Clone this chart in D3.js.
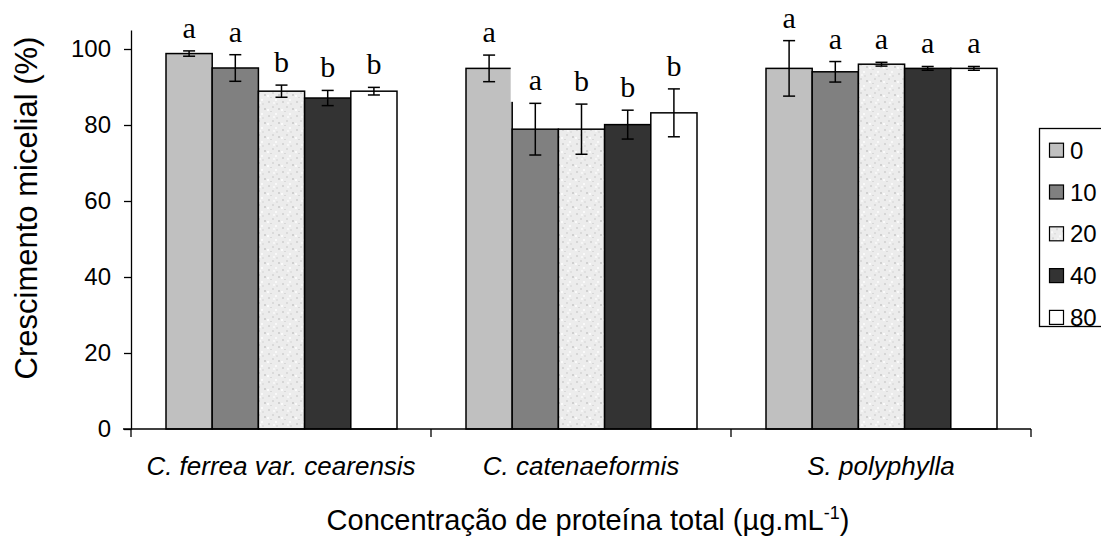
<!DOCTYPE html>
<html>
<head>
<meta charset="utf-8">
<script src="https://cdn.jsdelivr.net/npm/d3@7"></script>
<style>
  body { margin: 0; background: #fff; }
  svg { display: block; }
</style>
</head>
<body>
<div id="chart"></div>
<script>
// chart data
var groups = ["C. ferrea var. cearensis", "C. catenaeformis", "S. polyphylla"];
var doses = ["0", "10", "20", "40", "80"];
var ferreaMeans = [98.8, 95.0, 88.9, 87.1, 88.9];
var ferreaErr = [0.7, 3.5, 1.6, 2.0, 1.0];
var ferreaLetters = ["a", "a", "b", "b", "b"];
var catenMeans = [94.9, 78.9, 78.9, 80.1, 83.2];
var catenErr = [3.5, 6.8, 6.6, 3.8, 6.3];
var catenLetters = ["a", "a", "b", "b", "b"];
var polyMeans = [94.9, 94.0, 96.0, 94.9, 94.9];
var polyErr = [7.3, 2.7, 0.5, 0.5, 0.5];
var polyLetters = ["a", "a", "a", "a", "a"];
var yTicks = [0, 20, 40, 60, 80, 100];

var means = [ferreaMeans, catenMeans, polyMeans];
var errs = [ferreaErr, catenErr, polyErr];
var letters = [ferreaLetters, catenLetters, polyLetters];

var fills = ["#c0c0c0", "#808080", "url(#speckle)", "#333333", "#ffffff"];

var width = 1101, height = 538;
var svg = d3.select("#chart").append("svg")
    .attr("width", width)
    .attr("height", height);

// speckled texture for the 20 series
var pat = svg.append("defs").append("pattern")
    .attr("id", "speckle")
    .attr("patternUnits", "userSpaceOnUse")
    .attr("width", 14).attr("height", 14);
pat.append("rect").attr("width", 14).attr("height", 14).attr("fill", "#ececec");
var dots = [[2, 3, "#d6d6d6"], [9, 1, "#f9f9f9"], [6, 8, "#dadada"], [12, 10, "#d0d0d0"],
            [1, 11, "#fafafa"], [10, 5, "#e0e0e0"], [4, 13, "#d8d8d8"], [7, 4, "#f6f6f6"]];
dots.forEach(function (d) {
    pat.append("rect").attr("x", d[0]).attr("y", d[1])
        .attr("width", 2).attr("height", 2).attr("fill", d[2]);
});

var x0 = d3.scaleBand().domain(groups).range([131, 1031]);
var x1 = d3.scaleBand().domain(doses).range([35, 266]);
var y = d3.scaleLinear().domain([0, 105]).range([429, 30]);

// rows: one per bar
var rows = [];
groups.forEach(function (g, gi) {
    doses.forEach(function (d, di) {
        rows.push({ group: g, dose: d, di: di, v: means[gi][di], e: errs[gi][di], l: letters[gi][di] });
    });
});

var bars = svg.append("g");
bars.selectAll("rect")
    .data(rows)
    .enter().append("rect")
    .attr("x", function (d) { return x0(d.group) + x1(d.dose); })
    .attr("y", function (d) { return y(d.v); })
    .attr("width", x1.bandwidth())
    .attr("height", function (d) { return y(0) - y(d.v); })
    .attr("fill", function (d) { return fills[d.di]; })
    .attr("stroke", "#000")
    .attr("stroke-width", 1.5);

// white label box that clips the corner of the first C. catenaeformis bar
svg.append("rect")
    .attr("x", x0(groups[1]) + x1(doses[1]) - 1.5)
    .attr("y", 60)
    .attr("width", 50)
    .attr("height", y(catenMeans[1] + catenErr[1]) - 1.5 - 60)
    .attr("fill", "#fff");

// error bars
var eb = svg.append("g").attr("stroke", "#000").attr("stroke-width", 1.5);
rows.forEach(function (d) {
    var cx = x0(d.group) + x1(d.dose) + x1.bandwidth() / 2;
    var top = y(d.v + d.e), bot = y(d.v - d.e);
    eb.append("line").attr("x1", cx).attr("x2", cx).attr("y1", top).attr("y2", bot);
    eb.append("line").attr("x1", cx - 6).attr("x2", cx + 6).attr("y1", top).attr("y2", top);
    eb.append("line").attr("x1", cx - 6).attr("x2", cx + 6).attr("y1", bot).attr("y2", bot);
});

// significance letters
svg.append("g").selectAll("text")
    .data(rows)
    .enter().append("text")
    .attr("x", function (d) { return x0(d.group) + x1(d.dose) + x1.bandwidth() / 2; })
    .attr("y", function (d) { return y(d.v + d.e) - 13; })
    .attr("text-anchor", "middle")
    .style("font-family", "'Liberation Serif', 'Times New Roman', serif")
    .style("font-size", "30px")
    .text(function (d) { return d.l; });

// y axis
var yAxis = svg.append("g")
    .attr("transform", "translate(131,0)")
    .call(d3.axisLeft(y).tickValues(yTicks).tickSize(7).tickSizeOuter(0).tickPadding(13));
yAxis.selectAll("path, line").attr("stroke", "#000").attr("stroke-width", 1.3);
yAxis.selectAll("text")
    .style("font-family", "'Liberation Sans', Arial, sans-serif")
    .style("font-size", "24px")
    .attr("fill", "#000");

// x axis line + group separators
svg.append("line")
    .attr("x1", 123).attr("x2", x0.range()[1])
    .attr("y1", y(0)).attr("y2", y(0))
    .attr("stroke", "#000").attr("stroke-width", 1.3);
var sep = groups.map(function (g) { return x0(g); }).concat([x0.range()[1]]);
svg.append("g").selectAll("line")
    .data(sep)
    .enter().append("line")
    .attr("x1", function (d) { return d; }).attr("x2", function (d) { return d; })
    .attr("y1", y(0)).attr("y2", y(0) + 8)
    .attr("stroke", "#000").attr("stroke-width", 1.3);

svg.append("g").selectAll("text")
    .data(groups)
    .enter().append("text")
    .attr("x", function (d) { return x0(d) + x0.bandwidth() / 2; })
    .attr("y", 475)
    .attr("text-anchor", "middle")
    .style("font-family", "'Liberation Sans', Arial, sans-serif")
    .style("font-style", "italic")
    .style("font-size", "26px")
    .text(function (d) { return d; });

// axis titles
var xt = svg.append("text")
    .attr("x", 588).attr("y", 530)
    .attr("text-anchor", "middle")
    .style("font-family", "'Liberation Sans', Arial, sans-serif")
    .style("font-size", "29px");
xt.append("tspan").text("Concentração de proteína total (µg.mL");
xt.append("tspan").attr("dy", -11).style("font-size", "18px").text("-1");
xt.append("tspan").attr("dy", 11).text(")");

svg.append("text")
    .attr("transform", "translate(37,208) rotate(-90)")
    .attr("text-anchor", "middle")
    .style("font-family", "'Liberation Sans', Arial, sans-serif")
    .style("font-size", "31px")
    .text("Crescimento micelial (%)");

// legend
var leg = svg.append("g");
leg.append("rect")
    .attr("x", 1039.5).attr("y", 128.5)
    .attr("width", 90).attr("height", 198)
    .attr("fill", "#fff").attr("stroke", "#000").attr("stroke-width", 1.3);
var li = leg.selectAll("g.item")
    .data(doses)
    .enter().append("g")
    .attr("class", "item")
    .attr("transform", function (d, i) { return "translate(0," + (150.7 + i * 41.8) + ")"; });
li.append("rect")
    .attr("x", 1049.5).attr("y", -7.5)
    .attr("width", 14).attr("height", 14)
    .attr("fill", function (d, i) { return fills[i]; })
    .attr("stroke", "#000").attr("stroke-width", 1.2);
li.append("text")
    .attr("x", 1070).attr("y", 8)
    .style("font-family", "'Liberation Sans', Arial, sans-serif")
    .style("font-size", "24px")
    .text(function (d) { return d; });
</script>
</body>
</html>
